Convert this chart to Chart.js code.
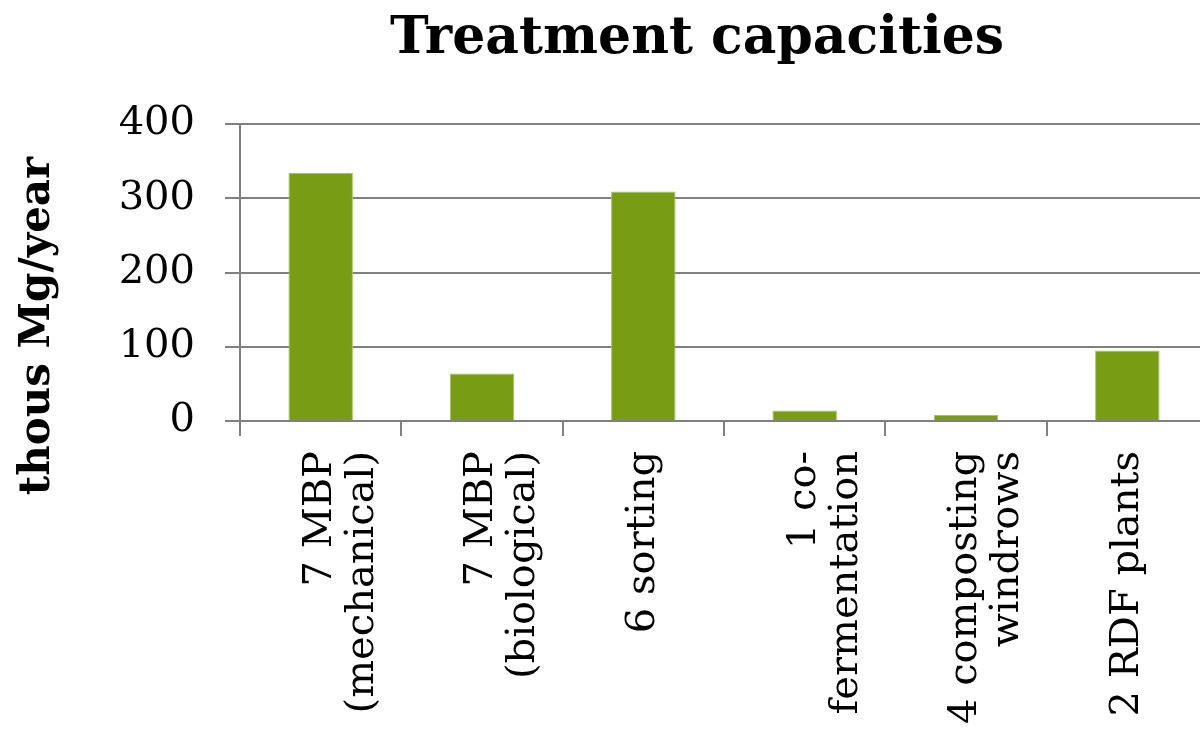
<!DOCTYPE html>
<html>
<head>
<meta charset="utf-8">
<script src="https://cdn.jsdelivr.net/npm/chart.js@4/dist/chart.umd.min.js"></script>
<style>
  html, body { margin: 0; padding: 0; background: #fff; overflow: hidden; }
  #wrap { width: 1210px; height: 736px; }
</style>
</head>
<body>
<div id="wrap"><canvas id="chart" width="1210" height="736"></canvas></div>
<script>
const chartTitle = "Treatment capacities";
const yAxisTitle = "thous Mg/year";
const categories = [
    ["7 MBP", "(mechanical)"],
    ["7 MBP", "(biological)"],
    ["6 sorting"],
    ["1 co-", "fermentation"],
    ["4 composting", "windrows"],
    ["2 RDF plants"]
];
const capacities = [334, 64, 309, 14, 8, 95];
const yTicks = [0, 100, 200, 300, 400];

const serif = "'DejaVu Serif', 'Liberation Serif', serif";

// both titles sit off-centre in the original, so draw them ourselves
const titlesPlugin = {
    id: "offsetTitles",
    afterDraw(chart) {
        const ctx = chart.ctx;
        ctx.save();
        ctx.fillStyle = "#000";
        ctx.textAlign = "center";
        ctx.textBaseline = "alphabetic";
        ctx.font = "bold 52px " + serif;
        ctx.fillText(chartTitle, 697, 53);

        ctx.translate(38, 326);
        ctx.rotate(-Math.PI / 2);
        ctx.textBaseline = "middle";
        ctx.font = "bold 42px " + serif;
        ctx.fillText(yAxisTitle, 0, 0);
        ctx.restore();
    }
};

const chart = new Chart(document.getElementById("chart"), {
    type: "bar",
    data: {
        labels: categories,
        datasets: [{
            data: capacities,
            backgroundColor: "#789d14",
            borderColor: "#a6c463",
            borderWidth: 1,
            barPercentage: 0.4,
            categoryPercentage: 1.0
        }]
    },
    options: {
        responsive: false,
        animation: false,
        layout: { padding: { top: 124, right: 2, left: 0, bottom: 0 } },
        plugins: {
            legend: { display: false },
            tooltip: { enabled: false },
            title: { display: false }
        },
        scales: {
            x: {
                grid: { drawOnChartArea: false, color: "#808080", lineWidth: 2, tickLength: 15, offset: true },
                border: { display: false },
                ticks: {
                    minRotation: 90,
                    maxRotation: 90,
                    autoSkip: false,
                    padding: 15,
                    color: "#000",
                    font: { family: serif, size: 40, lineHeight: 1.05 }
                },
                afterFit: s => { s.height = 315; }
            },
            y: {
                min: yTicks[0],
                max: yTicks[yTicks.length - 1],
                afterBuildTicks: s => { s.ticks = yTicks.map(v => ({ value: v })); },
                grid: { color: "#808080", lineWidth: 2, tickLength: 15 },
                border: { color: "#808080", width: 2 },
                ticks: {
                    padding: 30,
                    color: "#000",
                    font: { family: serif, size: 40 }
                },
                afterFit: s => { s.width = 240; }
            }
        }
    },
    plugins: [titlesPlugin]
});
</script>
</body>
</html>
